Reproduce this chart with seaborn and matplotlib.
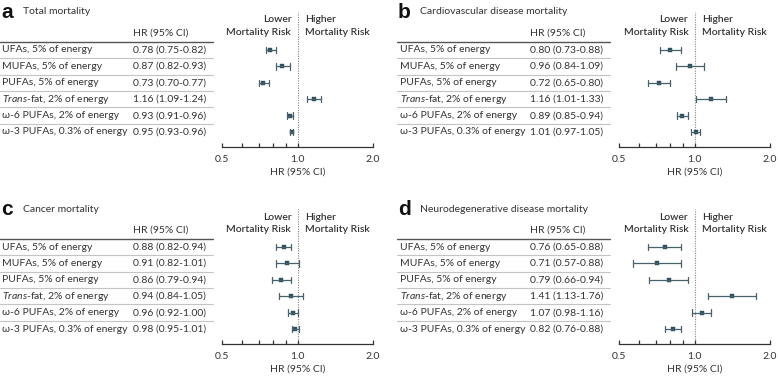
import numpy as np
import pandas as pd
import matplotlib
matplotlib.use("Agg")
import matplotlib.pyplot as plt
import matplotlib.transforms as mtransforms
from matplotlib.lines import Line2D
from matplotlib.ticker import FixedLocator, FixedFormatter, NullFormatter
import seaborn as sns

# ---------------- data ----------------
labels = ["UFAs, 5% of energy", "MUFAs, 5% of energy", "PUFAs, 5% of energy",
          "$\\mathit{Trans}$-fat, 2% of energy", "ω-6 PUFAs, 2% of energy",
          "ω-3 PUFAs, 0.3% of energy"]
panel_letters = ["a", "b", "c", "d"]
panel_titles = ["Total mortality", "Cardiovascular disease mortality",
                "Cancer mortality", "Neurodegenerative disease mortality"]

hr_a = [0.78, 0.87, 0.73, 1.16, 0.93, 0.95]
lo_a = [0.75, 0.82, 0.70, 1.09, 0.91, 0.93]
hi_a = [0.82, 0.93, 0.77, 1.24, 0.96, 0.96]

hr_b = [0.80, 0.96, 0.72, 1.16, 0.89, 1.01]
lo_b = [0.73, 0.84, 0.65, 1.01, 0.85, 0.97]
hi_b = [0.88, 1.09, 0.80, 1.33, 0.94, 1.05]

hr_c = [0.88, 0.91, 0.86, 0.94, 0.96, 0.98]
lo_c = [0.82, 0.82, 0.79, 0.84, 0.92, 0.95]
hi_c = [0.94, 1.01, 0.94, 1.05, 1.00, 1.01]

hr_d = [0.76, 0.71, 0.79, 1.41, 1.07, 0.82]
lo_d = [0.65, 0.57, 0.66, 1.13, 0.98, 0.76]
hi_d = [0.88, 0.88, 0.94, 1.76, 1.16, 0.88]

x_ticks = [0.5, 1.0, 2.0]
x_ticklabels = ["0.5", "1.0", "2.0"]
x_minor = [0.6, 0.7, 0.8, 0.9]

panels = [(hr_a, lo_a, hi_a), (hr_b, lo_b, hi_b), (hr_c, lo_c, hi_c), (hr_d, lo_d, hi_d)]

# ---------------- style ----------------
sns.set_style("white")
FONT = "Lato"
TXT = "#333333"
plt.rcParams["font.family"] = [FONT, "DejaVu Sans"]
plt.rcParams["mathtext.fontset"] = "custom"
plt.rcParams["mathtext.rm"] = FONT
plt.rcParams["mathtext.it"] = FONT + ":italic"
plt.rcParams["text.color"] = TXT
FS = 7.5

W, H = 778, 378
fig = plt.figure(figsize=(W / 100, H / 100), dpi=100)
fig.patch.set_facecolor("white")

def fx(px):
    return px / W

def fy(py):
    return 1 - py / H

row_sp = 16.4
row0 = 50.0
ax_top, ax_bot = 12.0, 147.0
offsets = [(0, 0), (397, 0), (0, 197), (397, 197)]

def ydata(py):
    return (py - row0) / row_sp

for k, ((hr, lo, hi), (dx, dy)) in enumerate(zip(panels, offsets)):
    left, right = 222 + dx, 373 + dx
    top, bot = ax_top + dy, ax_bot + dy
    ax = fig.add_axes([fx(left), fy(bot), fx(right - left), (bot - top) / H])

    recs = []
    for lab, l, h, u in zip(labels, lo, hr, hi):
        for v in (l, h, u):
            recs.append({"label": lab, "value": v})
    df = pd.DataFrame(recs)

    sns.pointplot(data=df, x="value", y="label", order=labels,
                  estimator="median", errorbar=lambda v: (v.min(), v.max()),
                  linestyle="none", marker="s", markersize=3.4, markeredgewidth=0.3,
                  capsize=0.4, color="#2c5160",
                  err_kws={"linewidth": 0.9, "color": "#48616b"},
                  log_scale=True, ax=ax)

    ax.set_xlim(0.5, 2.0)
    ax.set_ylim(ydata(ax_bot), ydata(ax_top))
    ax.axvline(1.0, color="#888888", linestyle=(0, (1, 1.2)), linewidth=0.8, zorder=0)

    ax.xaxis.set_major_locator(FixedLocator(x_ticks))
    ax.xaxis.set_major_formatter(FixedFormatter(x_ticklabels))
    ax.xaxis.set_minor_locator(FixedLocator(x_minor))
    ax.xaxis.set_minor_formatter(NullFormatter())
    ax.tick_params(axis="x", which="both", direction="in", length=3.2, width=0.9,
                   color=TXT, labelsize=FS, labelcolor=TXT, pad=6, bottom=True)
    ax.set_yticks([])
    ax.set_ylabel("")
    ax.set_xlabel("HR (95% CI)", fontsize=FS, color=TXT, labelpad=2)
    for s in ("left", "top", "right"):
        ax.spines[s].set_visible(False)
    ax.spines["bottom"].set_color(TXT)
    ax.spines["bottom"].set_linewidth(0.9)
    ax.patch.set_alpha(0)

    # risk headers
    for txt, py in (("Lower", 20), ("Mortality Risk", 33)):
        ax.annotate(txt, xy=(1.0, ydata(py)), xycoords="data",
                    xytext=(-4.5, 0), textcoords="offset points", ha="right", va="center",
                    fontsize=FS, color=TXT, fontweight="semibold")
    for txt, py in (("Higher", 20), ("Mortality Risk", 33)):
        ax.annotate(txt, xy=(1.0, ydata(py)), xycoords="data",
                    xytext=(5.5, 0), textcoords="offset points", ha="left", va="center",
                    fontsize=FS, color=TXT, fontweight="semibold")

    # table
    tr = mtransforms.blended_transform_factory(fig.transFigure, ax.transData)
    lab_x = fx(2 + dx + (1 if dx else 0))
    val_x = fx(133 + dx)
    for i, (lab, l, h, u) in enumerate(zip(labels, lo, hr, hi)):
        fig.text(lab_x, i, lab, transform=tr, ha="left", va="center", fontsize=FS, color=TXT)
        fig.text(val_x, i, f"{h:.2f} ({l:.2f}-{u:.2f})", transform=tr,
                 ha="left", va="center", fontsize=FS, color=TXT)
    for i in range(5):
        fig.add_artist(Line2D([fx(0 + dx), fx(213 + dx)], [i + 0.5, i + 0.5],
                              transform=tr, color="#c4c4c4", linewidth=0.8))
    fig.add_artist(Line2D([fx(0 + dx), fx(213 + dx)], [-0.5, -0.5],
                          transform=tr, color="#555555", linewidth=1.0))
    fig.text(val_x, ydata(33), "HR (95% CI)", transform=tr, ha="left", va="center",
             fontsize=FS, color=TXT)
    # title + letter
    fig.text(fx(23 + dx), fy(12 + dy), panel_titles[k], ha="left", va="center",
             fontsize=FS, color=TXT)
    fig.text(fx(1 + dx), fy(18 + dy), panel_letters[k], ha="left", va="baseline",
             fontsize=15, fontweight="bold", color="#111111",
             family=["Liberation Sans", "DejaVu Sans"])

fig.savefig("out.png", dpi=100, facecolor="white")
